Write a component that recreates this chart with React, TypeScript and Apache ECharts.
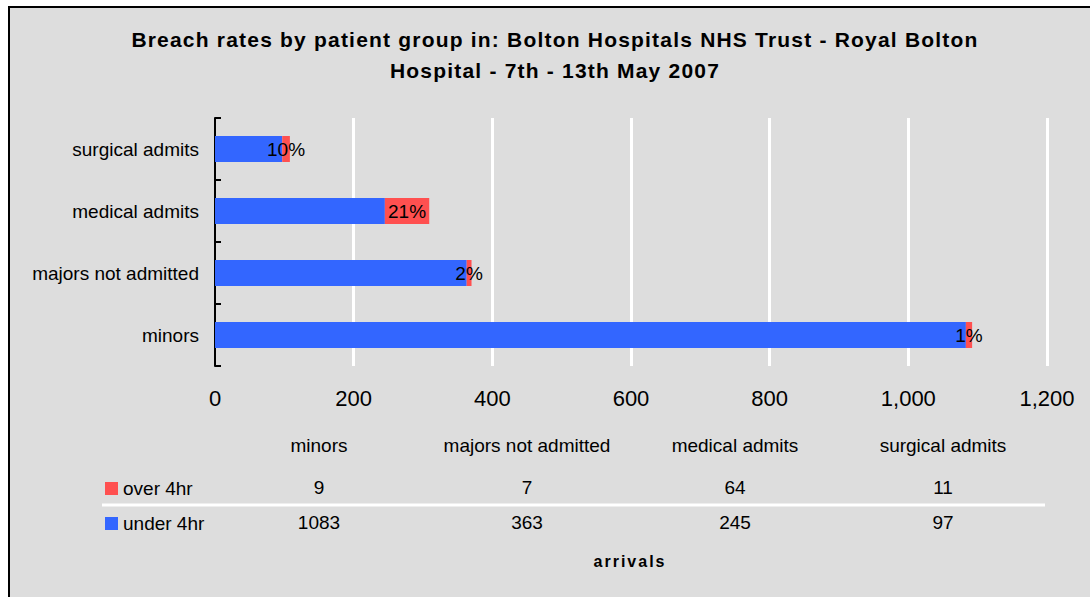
import React, { useEffect, useRef } from 'react';
import * as echarts from 'echarts';

const titleLines = [
  'Breach rates by patient group in: Bolton Hospitals NHS Trust - Royal Bolton',
  'Hospital - 7th - 13th May 2007',
];
const categories = ['minors', 'majors not admitted', 'medical admits', 'surgical admits'];
const over4hr = [9, 7, 64, 11];
const under4hr = [1083, 363, 245, 97];
const overName = 'over 4hr';
const underName = 'under 4hr';
const xMin = 0;
const xMax = 1200;
const xInterval = 200;
const tableAxisTitle = 'arrivals';

const FONT = '"Liberation Sans", Arial, Helvetica, sans-serif';
const BLUE = '#3366ff';
const RED = '#ff5050';
const BG = '#dddddd';

const GRID_LEFT = 215;
const GRID_RIGHT_X = 1047;
const GRID_TOP = 118;
const GRID_H = 248;
const W = 1090;
const H = 597;

export default function App() {
  const ref = useRef<HTMLDivElement>(null);

  useEffect(() => {
    if (!ref.current) return;
    const chart = echarts.init(ref.current, null, { renderer: 'svg' });

    const colW = (GRID_RIGHT_X - GRID_LEFT) / categories.length;
    const tableTexts: any[] = [];
    categories.forEach((c, i) => {
      const cx = GRID_LEFT + (i + 0.5) * colW;
      const mk = (text: string, y: number) => ({
        type: 'text',
        z: 5,
        style: {
          text,
          x: cx,
          y,
          align: 'center',
          verticalAlign: 'middle',
          fontSize: 19,
          fontFamily: FONT,
          fill: '#000',
        },
      });
      tableTexts.push(mk(c, 445));
      tableTexts.push(mk(String(over4hr[i]), 487));
      tableTexts.push(mk(String(under4hr[i]), 522));
    });

    chart.setOption({
      animation: false,
      backgroundColor: 'transparent',
      textStyle: { fontFamily: FONT },
      grid: {
        left: GRID_LEFT,
        right: W - GRID_RIGHT_X,
        top: GRID_TOP,
        height: GRID_H,
        containLabel: false,
      },
      legend: {
        data: [overName, underName],
        orient: 'vertical',
        left: 105,
        top: 479,
        itemWidth: 13,
        itemHeight: 13,
        itemGap: 16,
        icon: 'rect',
        padding: 0,
        selectedMode: false,
        textStyle: { fontSize: 19, color: '#000', fontFamily: FONT },
      },
      xAxis: {
        type: 'value',
        min: xMin,
        max: xMax,
        interval: xInterval,
        axisLine: { show: false },
        axisTick: { show: false },
        splitLine: { show: true, showMinLine: false, lineStyle: { color: '#ffffff', width: 3 } },
        axisLabel: {
          fontSize: 22,
          color: '#000',
          margin: 21,
          fontFamily: FONT,
          formatter: (v: number) => v.toLocaleString('en-US'),
        },
      },
      yAxis: {
        type: 'category',
        data: categories,
        axisLine: { show: true, lineStyle: { color: '#000', width: 2 } },
        axisTick: { show: true, inside: true, length: 6, lineStyle: { color: '#000', width: 2 } },
        axisLabel: { fontSize: 19, color: '#000', margin: 16, fontFamily: FONT },
        splitLine: { show: false },
      },
      series: [
        {
          name: underName,
          type: 'bar',
          stack: 'total',
          data: under4hr,
          barWidth: 26,
          itemStyle: { color: BLUE },
        },
        {
          name: overName,
          type: 'bar',
          stack: 'total',
          data: over4hr,
          barWidth: 26,
          itemStyle: { color: RED },
          label: {
            show: true,
            position: 'inside',
            color: '#000',
            fontSize: 19,
            fontFamily: FONT,
            formatter: (p: any) => {
              const i = p.dataIndex;
              return Math.round((over4hr[i] / (over4hr[i] + under4hr[i])) * 100) + '%';
            },
          },
        },
      ],
      graphic: [
        {
          type: 'rect',
          z: -100,
          silent: true,
          shape: { x: 9, y: 7, width: 1100, height: 600 },
          style: { fill: BG, stroke: '#000', lineWidth: 2 },
        },
        {
          type: 'text',
          z: 5,
          style: {
            text: titleLines.join('\n'),
            x: 555,
            y: 55,
            align: 'center',
            verticalAlign: 'middle',
            fontSize: 21,
            fontWeight: 'bold',
            lineHeight: 31,
            fontFamily: FONT,
            fill: '#000',
          },
        },
        {
          type: 'line',
          z: 5,
          shape: { x1: 102, y1: 505, x2: 1045, y2: 505 },
          style: { stroke: '#ffffff', lineWidth: 3 },
        },
        ...tableTexts,
        {
          type: 'text',
          z: 5,
          style: {
            text: tableAxisTitle,
            x: 630,
            y: 561,
            align: 'center',
            verticalAlign: 'middle',
            fontSize: 16,
            fontWeight: 'bold',
            fontFamily: FONT,
            fill: '#000',
          },
        },
      ],
    });

    return () => chart.dispose();
  }, []);

  return (
    <>
      <style>{`#chart-root svg text[style*="bold"]{letter-spacing:2px;} #chart-root svg text[style*="bold"][style*="21px"]{letter-spacing:1.2px;}`}</style>
      <div
        id="chart-root"
        ref={ref}
        style={{ position: 'absolute', left: 0, top: 0, width: W, height: H }}
      />
    </>
  );
}
